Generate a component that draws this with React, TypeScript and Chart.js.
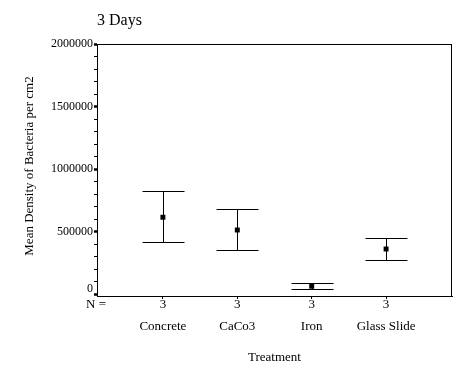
import React, { useEffect, useRef } from "react";
import { Chart, registerables } from "chart.js";

Chart.register(...registerables);

const categories = ["Concrete", "CaCo3", "Iron", "Glass Slide"];
const nCounts = ["3", "3", "3", "3"];
const means = [614000, 512000, 62000, 360000];
const upper = [822000, 678000, 86000, 446000];
const lower = [414000, 350000, 40000, 270000];
const yTicks = [0, 500000, 1000000, 1500000, 2000000];
const titleText = "3 Days";
const yTitle = "Mean Density of Bacteria per cm2";
const xTitle = "Treatment";

const FONT = "'Liberation Serif', 'DejaVu Serif', serif";

export default function App() {
  const ref = useRef<HTMLCanvasElement>(null);
  useEffect(() => {
    if (!ref.current) return;
    const extras = {
      id: "extras",
      afterDraw(chart: any) {
        const ctx = chart.ctx;
        const a = chart.chartArea;
        const xs = chart.scales.x;
        ctx.save();
        // frame
        ctx.strokeStyle = "#000";
        ctx.lineWidth = 1;
        ctx.strokeRect(a.left + 0.5, a.top + 0.5, a.right - a.left - 1, a.bottom - a.top);
        ctx.fillStyle = "#000";
        // title
        ctx.font = `16px ${FONT}`;
        ctx.textAlign = "left";
        ctx.textBaseline = "middle";
        ctx.fillText(titleText, 97, 21);
        // zero label (raised above N =)
        ctx.font = `12px ${FONT}`;
        ctx.textAlign = "right";
        ctx.fillText(String(yTicks[0]), 93, 289);
        // N =
        ctx.font = `13px ${FONT}`;
        ctx.textAlign = "left";
        ctx.fillText("N =", 86, 305);
        // x title
        ctx.textAlign = "center";
        ctx.fillText(xTitle, (xs.getPixelForValue(1) + xs.getPixelForValue(2)) / 2, 358);
        // y title
        ctx.translate(30, 166);
        ctx.rotate(-Math.PI / 2);
        ctx.fillText(yTitle, 0, 0);
        ctx.restore();
      },
      afterDatasetsDraw(chart: any) {
        const ctx = chart.ctx;
        const xs = chart.scales.x;
        const ys = chart.scales.y;
        ctx.save();
        ctx.strokeStyle = "#000";
        ctx.lineWidth = 1;
        for (let i = 0; i < categories.length; i++) {
          const x = Math.round(xs.getPixelForValue(i)) + 0.5;
          const yu = Math.round(ys.getPixelForValue(upper[i])) + 0.5;
          const yl = Math.round(ys.getPixelForValue(lower[i])) + 0.5;
          ctx.beginPath();
          ctx.moveTo(x, yu);
          ctx.lineTo(x, yl);
          ctx.moveTo(x - 21, yu);
          ctx.lineTo(x + 21, yu);
          ctx.moveTo(x - 21, yl);
          ctx.lineTo(x + 21, yl);
          ctx.stroke();
        }
        ctx.restore();
      },
    };
    const chart = new Chart(ref.current, {
      type: "scatter",
      data: {
        datasets: [
          {
            data: means.map((m, i) => ({ x: i, y: m })),
            backgroundColor: "#000",
            borderColor: "#000",
            pointStyle: "rect",
            pointRadius: 3.5,
            borderWidth: 0,
          },
        ],
      },
      options: {
        responsive: false,
        animation: false,
        events: [],
        layout: { padding: { left: 0, top: 44, right: 20, bottom: 0 } },
        plugins: { legend: { display: false }, tooltip: { enabled: false }, title: { display: false } },
        scales: {
          x: {
            type: "linear",
            min: -0.886,
            max: 3.886,
            afterBuildTicks: (s: any) => {
              s.ticks = categories.map((_, i) => ({ value: i }));
            },
            afterFit: (s: any) => {
              s.height = 81;
            },
            border: { display: true, color: "#000", width: 1 },
            grid: { drawOnChartArea: false, color: "#000", tickLength: 3, tickWidth: 1 },
            ticks: {
              color: "#000",
              padding: -5,
              maxRotation: 0,
              font: { family: FONT, size: 13, lineHeight: 1.69 },
              callback: (v: any) => [nCounts[v], categories[v]],
            },
          },
          y: {
            min: -16000,
            max: 2000000,
            afterBuildTicks: (s: any) => {
              const t: any[] = [];
              for (let v = 0; v <= 2000000; v += 100000) t.push({ value: v });
              s.ticks = t;
            },
            afterFit: (s: any) => {
              s.width = 97;
            },
            border: { display: true, color: "#000", width: 1 },
            grid: {
              drawOnChartArea: false,
              color: "#000",
              tickLength: 3,
              tickWidth: (c: any) => (c.tick && yTicks.includes(c.tick.value) ? 2.5 : 1),
            },
            ticks: {
              color: "#000",
              padding: 1,
              autoSkip: false,
              font: { family: FONT, size: 12 },
              callback: (v: any) => (v !== 0 && yTicks.includes(v) ? String(v) : ""),
            },
          },
        },
      },
      plugins: [extras],
    });
    return () => chart.destroy();
  }, []);
  return (
    <div style={{ position: "fixed", left: 0, top: 0, width: 472, height: 377, background: "#fff" }}>
      <canvas ref={ref} width={472} height={377} style={{ width: 472, height: 377 }} />
    </div>
  );
}
